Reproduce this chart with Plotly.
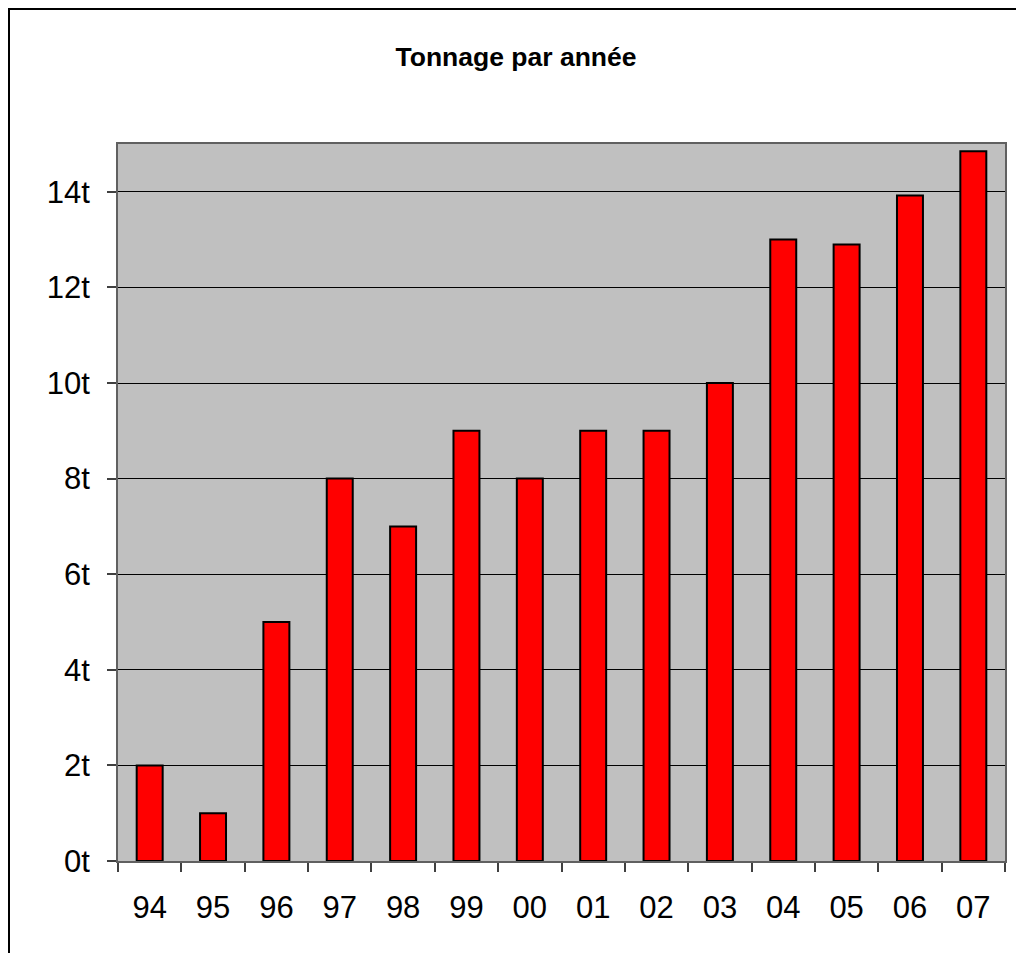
import plotly.graph_objects as go

years = ["94", "95", "96", "97", "98", "99", "00", "01", "02", "03", "04", "05", "06", "07"]
tonnage = [2, 1, 5, 8, 7, 9, 8, 9, 9, 10, 13, 12.9, 13.92, 14.85]
y_ticks = [0, 2, 4, 6, 8, 10, 12, 14]

W, H = 1024, 953
L, R, T, B = 110, 27, 136, 100
pw, ph = W - L - R, H - T - B

fig = go.Figure(go.Bar(
    x=years, y=tonnage,
    marker=dict(color="#FF0000", line=dict(color="#000000", width=2)),
    width=0.41,
))

def px_x(p):
    return (p - L) / pw

def px_y(p):
    return (H - B - p) / ph

fig.update_layout(
    width=W, height=H, autosize=False,
    margin=dict(l=L, r=R, t=T, b=B, pad=0),
    paper_bgcolor="white",
    plot_bgcolor="#C0C0C0",
    showlegend=False,
    font=dict(family="Arial, Liberation Sans, sans-serif", color="black"),
    title=dict(text="<b>Tonnage par année</b>", x=508 / W, xref="container", xanchor="center",
               y=1 - 49 / H, yref="container", yanchor="middle",
               font=dict(size=26.5, family="Arial, Liberation Sans, sans-serif", color="black")),
    xaxis=dict(type="category", tickson="boundaries", ticks="outside", ticklen=9, tickwidth=2,
               tickcolor="#404040", showgrid=False, showline=True, linecolor="#606060", linewidth=2,
               mirror=True, tickfont=dict(size=31), ticklabelstandoff=18),
    yaxis=dict(range=[0, 15], tickvals=y_ticks, ticktext=[f"{v}t" for v in y_ticks],
               ticks="outside", ticklen=9, tickwidth=2, tickcolor="#404040",
               showgrid=True, gridcolor="#000000", gridwidth=1,
               showline=True, linecolor="#606060", linewidth=2, mirror=True,
               zeroline=False, tickfont=dict(size=31), ticklabelstandoff=11),
    shapes=[
        dict(type="line", xref="paper", yref="paper",
             x0=px_x(1), x1=px_x(1), y0=px_y(H), y1=px_y(0),
             line=dict(color="black", width=2), layer="above"),
        dict(type="line", xref="paper", yref="paper",
             x0=px_x(0), x1=px_x(W), y0=px_y(1), y1=px_y(1),
             line=dict(color="black", width=2), layer="above"),
    ],
)

fig.write_html("out.html")
